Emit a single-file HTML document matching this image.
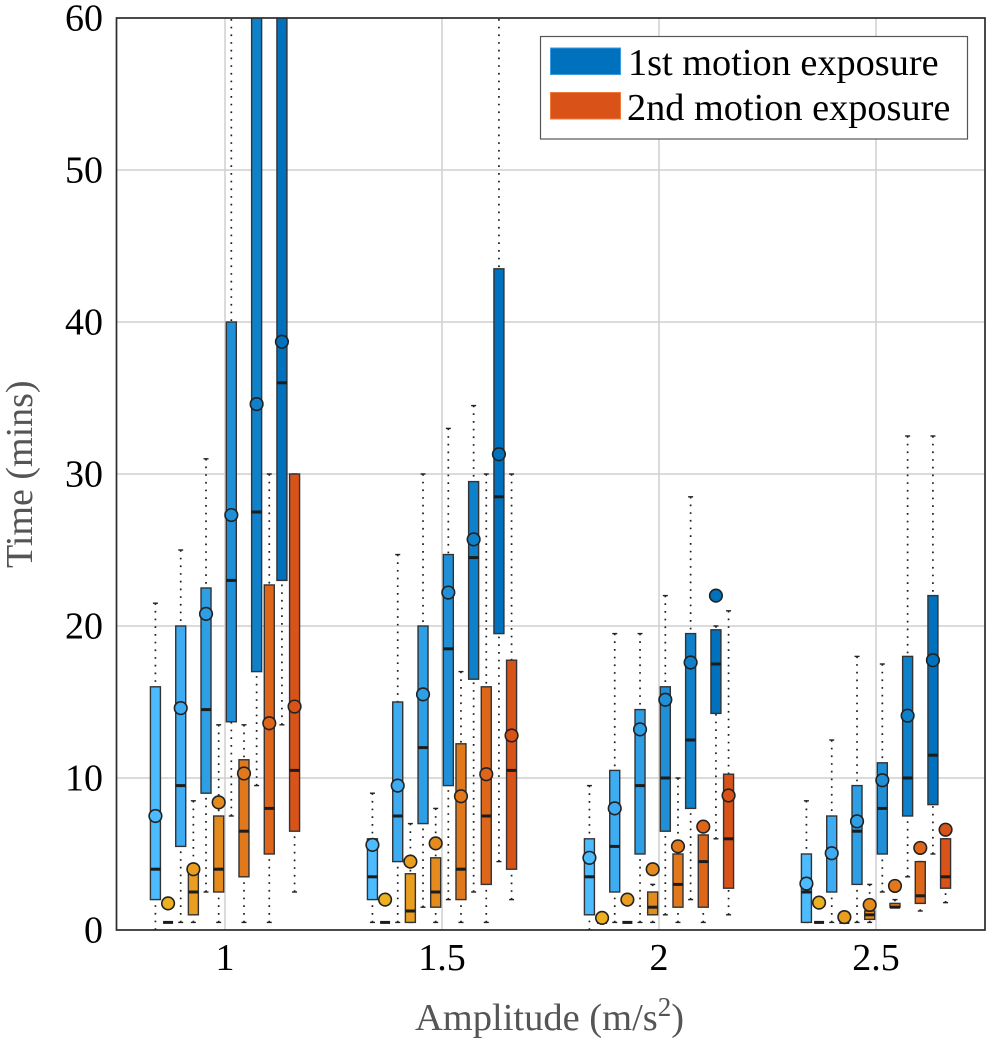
<!DOCTYPE html>
<html lang="en">
<head>
<meta charset="utf-8">
<title>Time by amplitude and motion exposure</title>
<style>
html,body{margin:0;padding:0;background:#fff;}
svg{display:block;font-family:"Liberation Serif",serif;}
</style>
</head>
<body>
<svg id="chart" width="992" height="1045" viewBox="0 0 992 1045" xmlns="http://www.w3.org/2000/svg">
<defs><clipPath id="plot-clip"><rect x="116.5" y="18" width="868.5" height="912"></rect></clipPath></defs>
<g id="grid"></g>
<g id="marks" clip-path="url(#plot-clip)"></g>
<rect x="116.5" y="18" width="868.5" height="912" fill="none" stroke="#2a2a2a" stroke-width="1.7"></rect>
<g id="ticks"></g>
<text transform="translate(32 568) rotate(-90)" font-size="38" fill="#555">Time (mins)</text>
<text x="415" y="1030" font-size="38.5" fill="#555">Amplitude (m/s<tspan font-size="27" dy="-14">2</tspan><tspan dy="14">)</tspan></text>
<g>
<rect x="540.5" y="36.5" width="427" height="102.5" fill="#fff" stroke="#555" stroke-width="1.2"></rect>
<rect x="550.5" y="48" width="70" height="26.5" fill="#0072BD" stroke="#3c9ade" stroke-width="1"></rect>
<text x="628" y="75" font-size="38.3" fill="#000">1st motion exposure</text>
<rect x="550.5" y="92.5" width="70" height="26.5" fill="#D95319" stroke="#ef7a3c" stroke-width="1"></rect>
<text x="627" y="120" font-size="38.3" fill="#000">2nd motion exposure</text>
</g>
</svg>
<script>
const amplitudes = [1, 1.5, 2, 2.5];
const amplitudeLabels = ['1', '1.5', '2', '2.5'];
const timeTicks = [0, 10, 20, 30, 40, 50, 60];
// Twelve boxes per amplitude, alternating first / second exposure.
const whiskerLow = [
  0, 0.5, 0.5, 0.5, 2.5, 0.5, 7.5, 0.5, 9.5, 0.5, 13.5, 2.5,
  0.5, 0.5, 0.5, 0.5, 1.5, 0.5, 2, 0.5, 2.5, 0.5, 4.5, 2,
  0, 0.5, 0.5, 0.5, 0.5, 0.5, 1, 0.5, 2, 0.5, 6, 1,
  0.5, 0.5, 0.5, 0.5, 0.5, 0.5, 2.5, 1.5, 3.5, 1.25, 5, 1.8
];
const quartile1 = [
  2, 0.5, 5.5, 1, 9, 2.5, 13.7, 3.5, 17, 5, 23, 6.5,
  2, 0.5, 4.5, 0.5, 7, 1.5, 9.5, 2, 16.5, 3, 19.5, 4,
  1, 0.5, 2.5, 0.5, 5, 1, 6.5, 1.5, 8, 1.5, 14.25, 2.75,
  0.5, 0.5, 2.5, 0.5, 3, 0.7, 5, 1.5, 7.5, 1.75, 8.25, 2.75
];
const medians = [
  4, 0.5, 9.5, 2.5, 14.5, 4, 23, 6.5, 27.5, 8, 36, 10.5,
  3.5, 0.5, 7.5, 1.25, 12, 2.5, 18.5, 4, 24.5, 7.5, 28.5, 10.5,
  3.5, 0.5, 5.5, 0.5, 9.5, 1.5, 10, 3, 12.5, 4.5, 17.5, 6,
  2.5, 0.5, 5, 0.5, 6.5, 1, 8, 1.5, 10, 2.25, 11.5, 3.5
];
const quartile3 = [
  16, 0.5, 20, 4, 22.5, 7.5, 40, 11.2, 65, 22.7, 65, 30,
  6, 0.5, 15, 3.7, 20, 4.75, 24.7, 12.25, 29.5, 16, 43.5, 17.75,
  6, 0.5, 10.5, 0.5, 14.5, 2.5, 16, 5, 19.5, 6.25, 19.75, 10.25,
  5, 0.5, 7.5, 0.5, 9.5, 1.25, 11, 1.75, 18, 4.5, 22, 6
];
const whiskerHigh = [
  21.5, 0.5, 25, 8.5, 31, 13.5, 65, 13.5, 65, 30, 65, 30,
  9, 0.5, 24.7, 7, 30, 8, 33, 17, 34.5, 30, 65, 30,
  9.5, 0.5, 19.5, 0.5, 19.5, 3, 22, 10, 28.5, 6.25, 20, 21,
  8.5, 0.5, 12.5, 0.5, 18, 3, 17.5, 2, 32.5, 4.5, 32.5, 6
];
const means = [
  7.5, 1.75, 14.6, 4, 20.8, 8.4, 27.3, 10.3, 34.6, 13.6, 38.7, 14.7,
  5.6, 2, 9.5, 4.5, 15.5, 5.7, 22.2, 8.8, 25.7, 10.25, 31.3, 12.8,
  4.75, 0.8, 8, 2, 13.2, 4, 15.15, 5.5, 17.6, 6.8, 22, 8.85,
  3.05, 1.8, 5.05, 0.85, 7.15, 1.65, 9.85, 2.9, 14.1, 5.4, 17.75, 6.6
];

const NS = 'http://www.w3.org/2000/svg';
const xAxis = v => 225 + (v - 1) * 434;
const yAxis = v => 930 - v * 15.2;
const boxSpacing = 12.65;
const boxWidth = 10;
const blueStart = [77, 187, 255], blueEnd = [0, 114, 189];
const orangeStart = [237, 177, 32], orangeEnd = [217, 83, 25];

function make(tag, parent, attrs) {
  const el = document.createElementNS(NS, tag);
  for (const k in attrs) el.setAttribute(k, attrs[k]);
  parent.appendChild(el);
  return el;
}
function mix(a, b, t) {
  return 'rgb(' + a.map((c, i) => Math.round(c + (b[i] - c) * t)).join(',') + ')';
}

const grid = document.getElementById('grid');
const ticks = document.getElementById('ticks');
const marks = document.getElementById('marks');

timeTicks.forEach(v => {
  if (v > 0 && v < 60) {
    const line = make('line', grid, {x1: 116.5, x2: 985, y1: yAxis(v), y2: yAxis(v), stroke: '#cfcfcf', 'stroke-width': 1.5});
    
    
  }
  const t = make('text', ticks, {x: 103, y: yAxis(v) + 12.5, 'text-anchor': 'end', 'font-size': 38, fill: '#000'});
  t.textContent = v;
  
  
});

amplitudes.forEach((a, i) => {
  const line = make('line', grid, {x1: xAxis(a), x2: xAxis(a), y1: 18, y2: 930, stroke: '#cfcfcf', 'stroke-width': 1.5});
  
  
  const t = make('text', ticks, {x: xAxis(a), y: 970, 'text-anchor': 'middle', 'font-size': 38, fill: '#000'});
  t.textContent = amplitudeLabels[i];
  
  
});

const perGroup = medians.length / amplitudes.length;
medians.forEach((median, i) => {
  const group = Math.floor(i / perGroup);
  const slot = i - group * perGroup;
  const cx = xAxis(amplitudes[group]) + (slot - (perGroup - 1) / 2) * boxSpacing;
  const t = Math.floor(slot / 2) / 5;
  const fill = slot % 2 === 0 ? mix(blueStart, blueEnd, t) : mix(orangeStart, orangeEnd, t);
  const g = make('g', marks, {});
  
  

  [[quartile3[i], whiskerHigh[i]], [quartile1[i], whiskerLow[i]]].forEach(pair => {
    const from = yAxis(pair[0]), to = yAxis(pair[1]);
    if (Math.abs(to - from) > 0.5) {
      const w = make('line', g, {x1: cx, x2: cx, y1: to, y2: from, stroke: '#1c1c1c', 'stroke-width': 1.7, 'stroke-dasharray': '1.7 6'});
      
      
    }
    const cap = make('line', g, {x1: cx - 2.5, x2: cx + 2.5, y1: to, y2: to, stroke: '#222', 'stroke-width': 1.4});
    
    
  });

  const top = yAxis(quartile3[i]), bottom = yAxis(quartile1[i]);
  const box = make('rect', g, {x: cx - boxWidth / 2, y: top, width: boxWidth, height: bottom - top, fill: fill, stroke: '#333', 'stroke-width': 1.4});
  
  
  const med = make('line', g, {x1: cx - boxWidth / 2, x2: cx + boxWidth / 2, y1: yAxis(median), y2: yAxis(median), stroke: '#1c1c1c', 'stroke-width': 3});
  
  
  const dot = make('circle', g, {cx: cx, cy: yAxis(means[i]), r: 6.3, fill: fill, stroke: '#222', 'stroke-width': 1.6});
  
  
});
</script>
</body>
</html>
